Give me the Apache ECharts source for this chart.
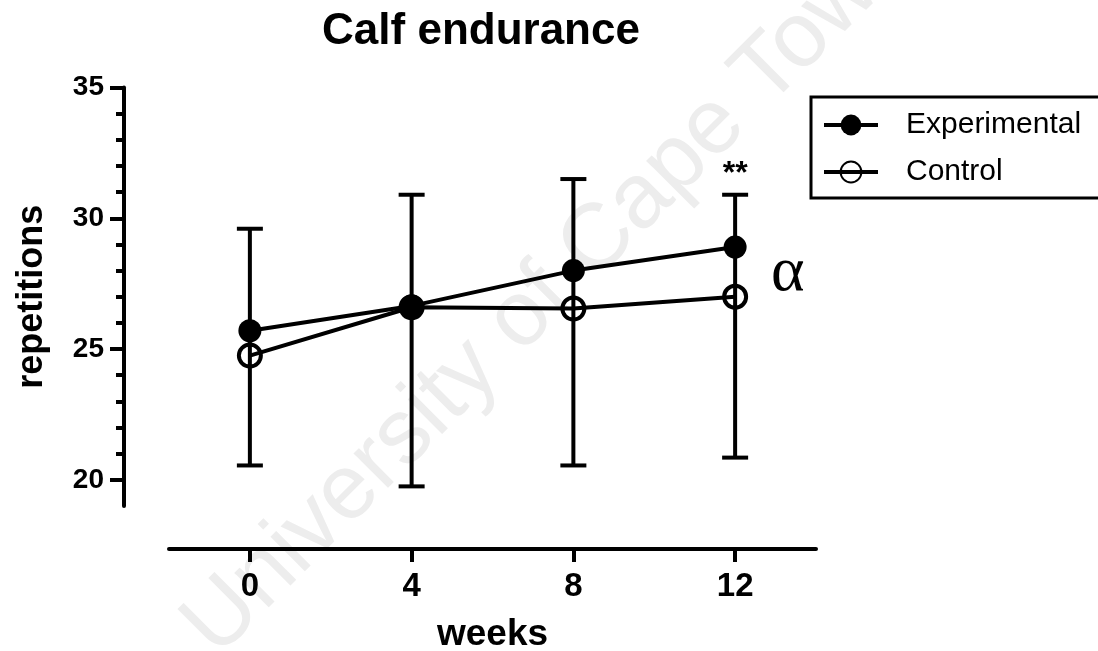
<!DOCTYPE html>
<html><head><meta charset="utf-8">
<script src="https://cdn.jsdelivr.net/npm/echarts@6/dist/echarts.min.js"></script>
<style>html,body{margin:0;padding:0;background:#fff;} #c{width:1098px;height:651px;}</style>
</head><body><div id="c"></div>
<script>
// ---- data ----
const weeks = [0, 4, 8, 12];
const experimental = [25.7, 26.65, 28.0, 28.9];
const control = [24.75, 26.6, 26.55, 27.0];
const errLow = [20.55, 19.75, 20.55, 20.85];
const errHigh = [29.6, 30.9, 31.5, 30.9];
const yMajorTicks = [20, 25, 30, 35];
const yMinorTicks = [21, 22, 23, 24, 26, 27, 28, 29, 31, 32, 33, 34];
const xTicks = [0, 4, 8, 12];
const annotationText = ['**', 'α'];
const annotationX = [12, 13.3];
const annotationY = [31.7, 27.9];

const FONT = '"Liberation Sans", Arial, sans-serif';
const chart = echarts.init(document.getElementById('c'), null, {renderer: 'canvas'});

const errData = weeks.map((w, i) => [w, errLow[i], errHigh[i]]);
const annData = annotationText.map((t, i) => ({
  value: [annotationX[i], annotationY[i]],
  name: t,
  label: i === 0
    ? {fontSize: 32, fontWeight: 'bold', fontFamily: FONT, color: '#000', textBorderWidth: 0}
    : {fontSize: 64, fontWeight: 'normal', fontFamily: '"Liberation Serif", "DejaVu Serif", serif', color: '#000', textBorderWidth: 0}
}));

chart.setOption({
  animation: false,
  backgroundColor: '#fff',
  title: {
    text: 'Calf endurance',
    left: 476, top: 5, textAlign: 'center',
    textStyle: {fontSize: 44, fontWeight: 'bold', color: '#000', fontFamily: FONT}
  },
  graphic: [{
    type: 'text', x: 550, y: 290, rotation: Math.PI / 4, z: -10, silent: true,
    style: {text: 'University of Cape Town', fontSize: 92, fontFamily: FONT,
      fill: '#ededed', align: 'center', verticalAlign: 'middle'}
  }],
  legend: {
    data: ['Experimental', 'Control'],
    orient: 'vertical', left: 811, top: 97,
    itemWidth: 54, itemHeight: 26, itemGap: 17,
    padding: [13, 40, 11, 11],
    borderColor: '#000', borderWidth: 3,
    selectedMode: false,
    lineStyle: {width: 4, color: '#000'},
    textStyle: {fontSize: 30, color: '#000', fontFamily: FONT, lineHeight: 26, padding: [0, 0, 0, 23]}
  },
  grid: {left: 169, right: 282, top: 87.5, bottom: 145, containLabel: false, outerBoundsMode: 'none'},
  xAxis: {
    type: 'value', min: -2, max: 14, offset: 43,
    axisLine: {show: true, onZero: false, lineStyle: {color: '#000', width: 4}},
    axisTick: {show: true, customValues: xTicks, length: 13, lineStyle: {color: '#000', width: 4}},
    axisLabel: {customValues: xTicks, fontSize: 33, fontWeight: 'bold', color: '#000', fontFamily: FONT, margin: 21},
    splitLine: {show: false},
    name: 'weeks', nameLocation: 'middle', nameGap: 67,
    nameTextStyle: {fontSize: 37, fontWeight: 'bold', color: '#000', fontFamily: FONT}
  },
  yAxis: [{
    type: 'value', min: 19, max: 35, offset: 45, position: 'left',
    axisLine: {show: true, onZero: false, lineStyle: {color: '#000', width: 4}},
    axisTick: {show: true, customValues: yMajorTicks, length: 14, lineStyle: {color: '#000', width: 4}},
    axisLabel: {customValues: yMajorTicks, fontSize: 28, fontWeight: 'bold', color: '#000', fontFamily: FONT, margin: 20},
    splitLine: {show: false},
    name: 'repetitions', nameLocation: 'middle', nameGap: 74,
    nameTextStyle: {fontSize: 36, fontWeight: 'bold', color: '#000', fontFamily: FONT}
  }, {
    type: 'value', min: 19, max: 35, offset: 45, position: 'left',
    axisLine: {show: false, onZero: false},
    axisTick: {show: true, customValues: yMinorTicks, length: 8, lineStyle: {color: '#000', width: 4}},
    axisLabel: {show: false},
    splitLine: {show: false}
  }],
  series: [{
    type: 'custom', name: 'SD', z: 1,
    encode: {x: 0, y: [1, 2]},
    data: errData,
    renderItem: function (params, api) {
      const x = api.value(0);
      const lo = api.coord([x, api.value(1)]);
      const hi = api.coord([x, api.value(2)]);
      const hw = 13;
      const style = {stroke: '#000', lineWidth: 4};
      return {type: 'group', children: [
        {type: 'line', shape: {x1: lo[0], y1: lo[1], x2: hi[0], y2: hi[1]}, style: style},
        {type: 'line', shape: {x1: lo[0] - hw, y1: lo[1], x2: lo[0] + hw, y2: lo[1]}, style: style},
        {type: 'line', shape: {x1: hi[0] - hw, y1: hi[1], x2: hi[0] + hw, y2: hi[1]}, style: style}
      ]};
    }
  }, {
    type: 'line', name: 'Control', z: 3,
    data: weeks.map((w, i) => [w, control[i]]),
    symbol: 'circle', symbolSize: 22,
    itemStyle: {color: 'rgba(0,0,0,0)', borderColor: '#000', borderWidth: 4},
    lineStyle: {color: '#000', width: 4}
  }, {
    type: 'line', name: 'Experimental', z: 4,
    data: weeks.map((w, i) => [w, experimental[i]]),
    symbol: 'circle', symbolSize: 23,
    itemStyle: {color: '#000'},
    lineStyle: {color: '#000', width: 4}
  }, {
    type: 'scatter', name: 'annotations', z: 5, silent: true,
    symbolSize: 0,
    itemStyle: {opacity: 1, color: '#000'},
    data: annData,
    label: {show: true, position: 'inside', color: '#000', formatter: p => p.name}
  }]
});
</script></body></html>
